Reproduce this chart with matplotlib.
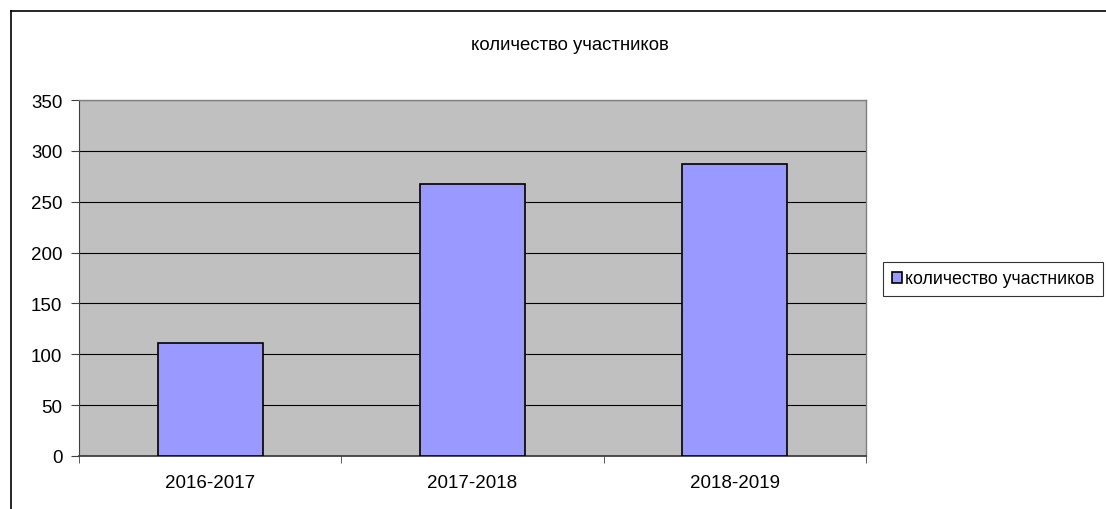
import numpy as np
import matplotlib.pyplot as plt

plt.rcParams['font.family'] = ['Liberation Sans', 'DejaVu Sans']

# данные
сезоны = ['2016-2017', '2017-2018', '2018-2019']
участники = [111, 267, 287]
подпись = 'количество участников'

W, H = 1106, 510
fig = plt.figure(figsize=(W / 100, H / 100), dpi=100)

# внешняя рамка диаграммы (видны только верх и левый край)
fig.add_artist(plt.Line2D([10.5 / W, 10.5 / W], [0, 1 - 12 / H], color='black', lw=1.2))
fig.add_artist(plt.Line2D([10.5 / W, 1], [1 - 12 / H, 1 - 12 / H], color='black', lw=1.2))

ax = fig.add_axes([79 / W, 1 - 457 / H, (866 - 79) / W, (457 - 101) / H])
ax.set_facecolor('#C0C0C0')

x = np.arange(len(сезоны))
ax.bar(x, участники, width=0.4, color='#9999FF', edgecolor='black', linewidth=1.2,
       label=подпись, zorder=3)

ax.set_xlim(-0.5, len(сезоны) - 0.5)
ax.set_ylim(0, 350)
ax.set_yticks(range(0, 351, 50))
ax.yaxis.grid(True, color='black', linewidth=0.8, zorder=0)
ax.set_axisbelow(True)

ax.set_xticks(x)
ax.set_xticklabels(сезоны, fontsize=13.5)
ax.tick_params(axis='x', length=0, pad=13)
ax.tick_params(axis='y', labelsize=13.5, length=6, color='#404040', pad=6)
# деления между категориями
ax.set_xticks(np.arange(-0.5, len(сезоны)), minor=True)
ax.tick_params(axis='x', which='minor', length=5, color='#404040')

for s in ['top', 'right']:
    ax.spines[s].set_color('#808080')
    ax.spines[s].set_linewidth(1)
ax.spines['left'].set_color('#404040')
ax.spines['bottom'].set_color('#404040')
ax.spines['bottom'].set_linewidth(1.3)

fig.text(570 / W, 1 - 45 / H, подпись, ha='center', va='center', fontsize=13.3)

leg = fig.legend(loc='center left', bbox_to_anchor=(883 / W, 1 - 280 / H), fontsize=12.8,
                 frameon=True, fancybox=False, edgecolor='black', handlelength=0.55,
                 handleheight=0.55, handletextpad=0.2, borderpad=0.5, borderaxespad=0)
leg.get_frame().set_linewidth(0.8)

fig.savefig('out.png', dpi=100)
